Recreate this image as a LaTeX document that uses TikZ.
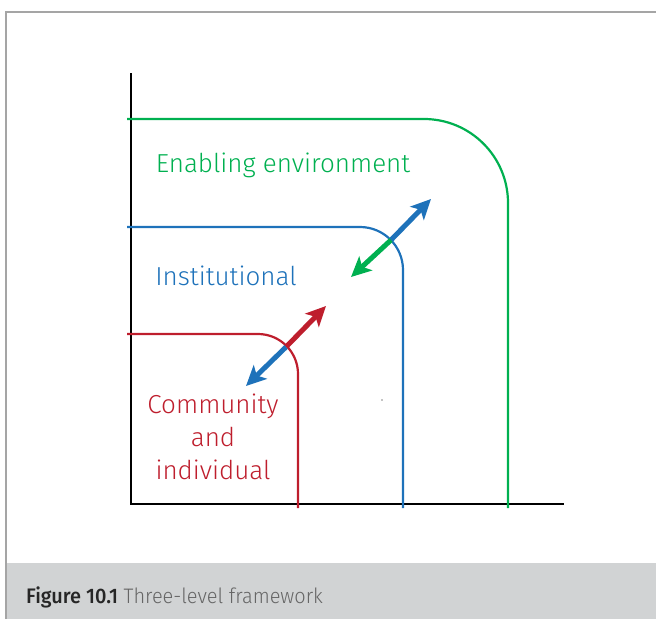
\documentclass[tikz,border=0pt]{standalone}
\usepackage{fontspec}
\IfFontExistsTF{Fira Sans Light}
  {\setmainfont{Fira Sans}[UprightFont=* Light, BoldFont=* Medium]}
  {\setmainfont{Fira Sans}}
\usepackage{tikz}
\usetikzlibrary{arrows.meta}
\definecolor{envgreen}{RGB}{0,176,80}
\definecolor{instblue}{RGB}{30,114,186}
\definecolor{commred}{RGB}{190,30,45}
\definecolor{framegray}{RGB}{165,165,165}
\definecolor{capgray}{RGB}{209,211,212}
\tikzset{
    level/.style={line width=2.2pt, rounded corners=#1},
    axis/.style={draw=black, line width=1.3pt},
    push/.style={line width=5pt, -{Stealth[length=20pt, width=19pt, inset=5pt]}},
    label/.style={font=\fontsize{26}{33}\selectfont, align=center, inner sep=0pt}
}
\begin{document}
\begin{tikzpicture}[x=1pt, y=-1pt]
\useasboundingbox (0,0) rectangle (656,619);
% frame and caption
\draw[framegray, line width=1.3pt] (6,619) -- (6,12) -- (656,12);
\fill[capgray] (6.6,563) rectangle (656,619);
\node[anchor=base west, inner sep=0pt, font=\fontsize{21}{24}\selectfont] (caption) at (26,603)
  {\addfontfeatures{FakeStretch=0.95}\textcolor{black!85}{\bfseries Figure 10.1}\ \textcolor{black!60}{Three-level framework}};
% axes
\draw[axis] (131,73) -- (131,504) -- (564,504);
\fill (382,400) circle (0.6pt);
% levels
\draw[level=84pt, envgreen] (127,119) -- (508,119) -- (508,508);
\draw[level=43pt, instblue] (127,227) -- (403,227) -- (403,508);
\draw[level=40pt, commred] (127,334) -- (298,334) -- (298,508);
% labels
\node[label, text=envgreen] (env) at (283,165) {Enabling environment};
\node[label, text=instblue] (inst) at (226,276) {Institutional};
\node[label, text=commred] (comm) at (213,437) {Community\\and\\individual};
% arrows
\coordinate (upper) at (391,240);
\coordinate (upperout) at (431,199);
\coordinate (upperin) at (351,277);
\coordinate (lower) at (286,347);
\coordinate (lowerout) at (326,306);
\coordinate (lowerin) at (246,386);
\draw[push, instblue] (upper) -- (upperout);
\draw[push, envgreen] (upper) -- (upperin);
\draw[push, commred] (lower) -- (lowerout);
\draw[push, instblue] (lower) -- (lowerin);
\end{tikzpicture}
\end{document}
